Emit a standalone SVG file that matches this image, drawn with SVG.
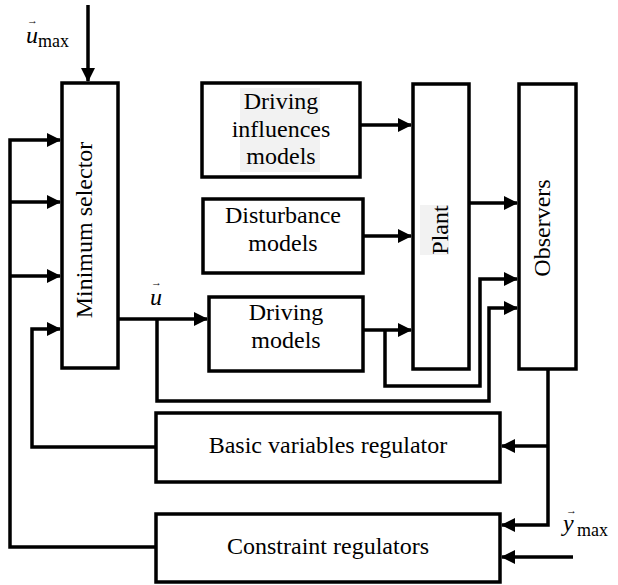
<svg xmlns="http://www.w3.org/2000/svg" width="618" height="585" viewBox="0 0 618 585">
<style>
.box{fill:#fff;stroke:#000;stroke-width:3.5}
.t{font-family:'Liberation Serif',serif;font-size:24px;fill:#000;text-anchor:middle}
.lbl{font-family:'Liberation Serif',serif;fill:#000}
.c{fill:none;stroke:#000;stroke-width:3.5;stroke-linejoin:miter}
.hl{fill:#f2f2f2}
</style>
<defs>
<marker id="ah" markerUnits="userSpaceOnUse" markerWidth="14" markerHeight="14" refX="13" refY="7" orient="auto">
<path d="M0,0 L14,7 L0,14 z" fill="#000"/>
</marker>
</defs>
<rect width="618" height="585" fill="#fff"/>

<g id="connectors">
<path class="c" d="M88,5 V81" marker-end="url(#ah)"/>
<path class="c" d="M156,547 H10 V140 H60" marker-end="url(#ah)"/>
<path class="c" d="M10,202 H60" marker-end="url(#ah)"/>
<path class="c" d="M10,276 H60" marker-end="url(#ah)"/>
<path class="c" d="M156,447 H32 V329 H60" marker-end="url(#ah)"/>
<path class="c" d="M118,319 H207" marker-end="url(#ah)"/>
<path class="c" d="M157,319 V401 H489 V308 H517" marker-end="url(#ah)"/>
<path class="c" d="M363,330 H411" marker-end="url(#ah)"/>
<path class="c" d="M385,330 V386 H480 V279 H517" marker-end="url(#ah)"/>
<path class="c" d="M360,125 H411" marker-end="url(#ah)"/>
<path class="c" d="M363,236 H411" marker-end="url(#ah)"/>
<path class="c" d="M469,203 H517" marker-end="url(#ah)"/>
<path class="c" d="M548,370 V525 H502" marker-end="url(#ah)"/>
<path class="c" d="M548,446 H502" marker-end="url(#ah)"/>
<path class="c" d="M573,557 H502" marker-end="url(#ah)"/>
</g>

<g id="labels">
<text class="lbl" x="26" y="43" font-size="24" font-style="italic">u</text>
<text class="lbl" x="27" y="24" font-size="11">→</text>
<text class="lbl" x="38" y="47" font-size="18">max</text>
<text class="lbl" x="150" y="305" font-size="24" font-style="italic">u</text>
<text class="lbl" x="151" y="286" font-size="11">→</text>
<text class="lbl" x="563" y="531" font-size="24" font-style="italic">y</text>
<text class="lbl" x="566" y="514" font-size="11">→</text>
<text class="lbl" x="577" y="536" font-size="18">max</text>
</g>

<g id="minimum-selector">
<rect class="box" x="62" y="83" width="56" height="285"/>
<text class="t" transform="translate(92,230) rotate(-90)">Minimum selector</text>
</g>

<g id="driving-influences-models">
<rect class="box" x="202" y="83" width="158" height="94"/>
<rect class="hl" x="240" y="88" width="80" height="84"/>
<text class="t" x="281" y="109">Driving</text>
<text class="t" x="281" y="137">influences</text>
<text class="t" x="281" y="164">models</text>
</g>

<g id="disturbance-models">
<rect class="box" x="203" y="199" width="160" height="74"/>
<text class="t" x="283" y="223">Disturbance</text>
<text class="t" x="283" y="251">models</text>
</g>

<g id="driving-models">
<rect class="box" x="209" y="297" width="154" height="74"/>
<text class="t" x="286" y="320">Driving</text>
<text class="t" x="286" y="348">models</text>
</g>

<g id="plant">
<rect class="box" x="413" y="84" width="56" height="285"/>
<rect class="hl" x="420" y="205" width="29" height="50"/>
<text class="t" transform="translate(448,230) rotate(-90)">Plant</text>
</g>

<g id="observers">
<rect class="box" x="519" y="84" width="57" height="285"/>
<text class="t" transform="translate(550,228) rotate(-90)">Observers</text>
</g>

<g id="basic-variables-regulator">
<rect class="box" x="156" y="413" width="344" height="69"/>
<text class="t" x="328" y="453">Basic variables regulator</text>
</g>

<g id="constraint-regulators">
<rect class="box" x="156" y="514" width="344" height="68"/>
<text class="t" x="328" y="554">Constraint regulators</text>
</g>
</svg>
